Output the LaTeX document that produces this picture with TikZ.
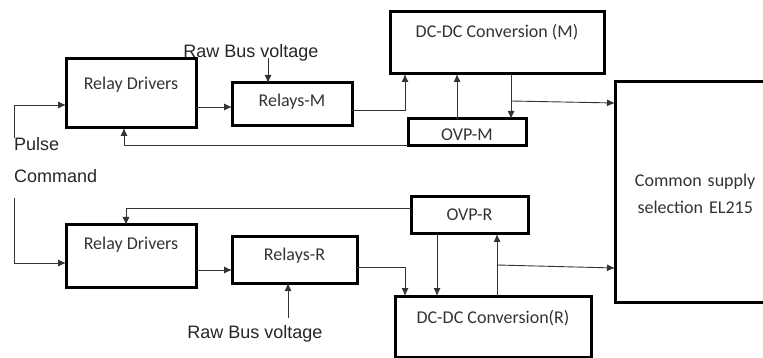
\documentclass[tikz,border=0pt]{standalone}
\usepackage{fontspec}
\setmainfont{Liberation Sans}
\newfontfamily\calib{Carlito}
\usetikzlibrary{arrows.meta}

\tikzset{
    blk/.style={draw, line width=3pt, inner sep=0pt, outer sep=0pt, anchor=north west,
        font=\calib\fontsize{18}{20}\selectfont, text=black!80},
    lbl/.style={inner sep=0pt, font=\fontsize{18}{21}\selectfont, text=black!85},
    wire/.style={line width=0.9pt, draw=black!80},
}

\begin{document}
\begin{tikzpicture}[x=1pt, y=-1pt, >={Latex[length=8pt,width=7pt]}]
        \useasboundingbox (0,0) rectangle (763,358);
        % main chain
        \node[blk, minimum width=130pt, text height=31pt, text depth=38pt] (rdM) at (66,59) {Relay Drivers};
        \node[blk, minimum width=120pt, text height=24pt, text depth=19pt] (relM) at (232,83) {Relays-M};
        \node[blk, minimum width=214pt, text height=26pt, text depth=36pt] (dcM) at (390,12) {DC-DC Conversion (M)};
        \node[blk, minimum width=118pt, text height=22pt, text depth=5pt] (ovpM) at (408,119) {OVP-M};
        % redundant chain
        \node[blk, minimum width=130pt, text height=25pt, text depth=37pt] (rdR) at (66,225) {Relay Drivers};
        \node[blk, minimum width=125pt, text height=24pt, text depth=22pt] (relR) at (232,237) {Relays-R};
        \node[blk, minimum width=117pt, text height=24pt, text depth=13pt] (ovpR) at (411,197) {OVP-R};
        \node[blk, minimum width=196pt, text height=27pt, text depth=34pt] (dcR) at (395,296) {DC-DC Conversion(R)};
        % right side of this box is cut off by the page
        \node[blk, draw=none, minimum width=250pt, minimum height=220pt,
            label={[anchor=west, text width=160pt, align=center, inner sep=0pt, yshift=-2pt,
                font=\calib\fontsize{18}{27}\selectfont, text=black!80]west:Common supply\\selection EL215}]
            (cs) at (615,82) {};
        \draw[line width=3pt] (cs.north east) -- (cs.north west) -- (cs.south west) -- (cs.south east);
        % labels
        \node[lbl, anchor=base] (busM) at (251,58) {Raw Bus voltage};
        \node[lbl, anchor=base, outer ysep=7pt] (busR) at (255,338) {Raw Bus voltage};
        \node[lbl, anchor=base west] (pulse) at (14,151) {Pulse};
        \node[lbl, anchor=base west, outer ysep=15pt] (cmd) at (14,183) {Command};
        \coordinate (tapM) at (511,101);
        \coordinate (tapR) at (497,265);

        \draw[wire,->] (pulse.north west) |- (rdM.west |- 0,105);
        \draw[wire,->] (cmd.south west) |- (rdR.west |- 0,263);
        \draw[wire,->] (rdM.east |- 0,107) -- (relM.west |- 0,107);
        \draw[wire,->] (rdR.east |- 0,270) -- (relR.west |- 0,270);
        \draw[wire,->] (busM.base -| 268,0) -- (relM.north -| 268,0);
        \draw[wire,->] (busR.north -| 288,0) -- (relR.south -| 288,0);
        \draw[wire,->] (relM.east |- 0,110) -| (dcM.south -| 405,0);
        \draw[wire,->] (relR.east |- 0,267) -| (dcR.north -| 405,0);
        \draw[wire,->] (ovpM.north -| 457,0) -- (dcM.south -| 457,0);
        \draw[wire,->] (dcM.south -| 511,0) -- (ovpM.north -| 511,0);
        \draw[wire,->] (ovpR.south -| 437,0) -- (dcR.north -| 437,0);
        \draw[wire,->] (dcR.north -| 497,0) -- (ovpR.south -| 497,0);
        \draw[wire,->] (tapM) -- (cs.west |- 0,103);
        \draw[wire,->] (tapR) -- (cs.west |- 0,268);
        \draw[wire,->] (ovpM.west |- 0,145) -| (rdM.south -| 124,0);
        \draw[wire,->] (ovpR.west |- 0,208) -| (rdR.north -| 126,0);
    \end{tikzpicture}
\end{document}
